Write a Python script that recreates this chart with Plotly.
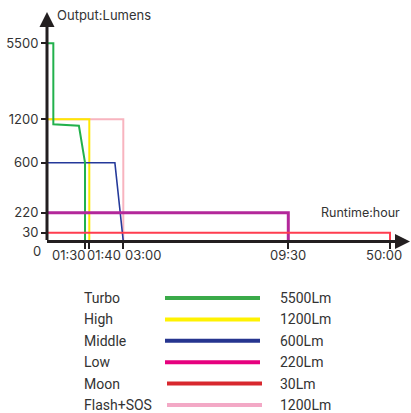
import numpy as np
import plotly.graph_objects as go

# ---- scale definitions (non-linear axes, piecewise) ----
time_tick_hours = [0, 1.5, 1.6667, 3.0, 9.5, 50.0]
time_tick_labels = ["", "01:30", "01:40", "03:00", "09:30", "50:00"]
time_scale_pos = [0, 38, 42.3, 76.3, 241.3, 343]
lumen_ticks = [0, 30, 220, 600, 1200, 5500]
lumen_tick_labels = ["0", "30", "220", "600", "1200", "5500"]
lumen_scale_pos = [0, 8.8, 28.8, 78.8, 122.2, 198.2]

# ---- series ----
modes = ["Turbo", "High", "Middle", "Low", "Moon", "Flash+SOS"]
mode_outputs = ["5500Lm", "1200Lm", "600Lm", "220Lm", "30Lm", "1200Lm"]

turbo_hours = [0, 0.25, 0.25, 1.26, 1.5, 1.5]
turbo_lumens = [5500, 5500, 1130, 1110, 600, 0]
high_hours = [0, 1.6667, 1.6667]
high_lumens = [1200, 1200, 0]
middle_hours = [0, 2.67, 3.0]
middle_lumens = [600, 600, 0]
low_hours = [0, 9.5, 9.5]
low_lumens = [220, 220, 0]
moon_hours = [0, 50.0, 50.0]
moon_lumens = [30, 30, 0]
flash_hours = [0, 3.0, 3.0]
flash_lumens = [1200, 1200, 0]

chart_colors = {"Turbo": "#22b14c", "High": "#ffe800", "Middle": "#24399a",
                "Low": "#b3279a", "Moon": "#ff3d4f", "Flash+SOS": "#f8b4bf"}
chart_widths = {"Turbo": 2, "High": 2, "Middle": 1.6, "Low": 3, "Moon": 2, "Flash+SOS": 2}
legend_colors = ["#3aaa49", "#fff200", "#26358f", "#e6007e", "#d8282e", "#f3a9c6"]

series = {
    "Turbo": (turbo_hours, turbo_lumens),
    "High": (high_hours, high_lumens),
    "Middle": (middle_hours, middle_lumens),
    "Low": (low_hours, low_lumens),
    "Moon": (moon_hours, moon_lumens),
    "Flash+SOS": (flash_hours, flash_lumens),
}


def tx(h):
    return np.interp(h, time_tick_hours, time_scale_pos)


def ty(l):
    return np.interp(l, lumen_ticks, lumen_scale_pos)


W, H = 411, 413
axis_x_px = 47
axis_y_px = 241.5
INK = "#231f20"
TXT = "#333333"
FONT = "Inter"

fig = go.Figure()

draw_order = ["Flash+SOS", "High", "Middle", "Turbo", "Low", "Moon"]
for name in draw_order:
    h, l = series[name]
    fig.add_trace(go.Scatter(
        x=tx(h), y=ty(l), mode="lines",
        line=dict(color=chart_colors[name], width=chart_widths[name]),
        xaxis="x", yaxis="y", showlegend=False, hoverinfo="skip"))

# legend block (own axes)
row0, row_step = 298, 21.4
for i, name in enumerate(modes):
    ry = row0 + i * row_step
    x0, x1 = (165, 260) if i < 4 else (167, 262)
    fig.add_trace(go.Scatter(
        x=[x0, x1], y=[ry, ry], mode="lines",
        line=dict(color=legend_colors[i], width=4),
        xaxis="x2", yaxis="y2", showlegend=False, hoverinfo="skip"))

annotations = []
for i, name in enumerate(modes):
    ry = row0 + i * row_step
    annotations.append(dict(x=82, y=ry, xref="x2", yref="y2", text=name,
                            showarrow=False, xanchor="left", yanchor="middle",
                            font=dict(family="Roboto", size=14, color=TXT)))
    annotations.append(dict(x=278, y=ry, xref="x2", yref="y2", text=mode_outputs[i],
                            showarrow=False, xanchor="left", yanchor="middle",
                            font=dict(family="Roboto", size=14, color=TXT)))

# axis lines with arrowheads
y_end = axis_y_px - 12
annotations.append(dict(x=0, y=y_end, ax=0, ay=0, xref="x", yref="y", axref="x", ayref="y",
                        showarrow=True, arrowhead=2, arrowsize=1, arrowwidth=3,
                        arrowcolor=INK, standoff=0, text=""))
x_tip_px = 418
annotations.append(dict(x=x_tip_px / W, y=0, xref="paper", yref="y",
                        ax=-(x_tip_px - axis_x_px + 1.5), ay=0,
                        showarrow=True, arrowhead=2, arrowsize=1, arrowwidth=3,
                        arrowcolor=INK, standoff=0, text=""))

# x tick labels
tick_pos = tx(time_tick_hours)
label_anchor = ["center", "right", "left", "left", "center", "center"]
label_shift = [0, 2, -4, 0, 0, -6]
for i in range(1, len(time_tick_hours)):
    annotations.append(dict(x=tick_pos[i], y=0, xref="x", yref="y", text=time_tick_labels[i],
                            showarrow=False, xanchor=label_anchor[i], yanchor="middle",
                            xshift=label_shift[i], yshift=-13,
                            font=dict(family=FONT, size=13, color=TXT)))
# zero label
annotations.append(dict(x=0, y=0, xref="x", yref="y", text=lumen_tick_labels[0],
                        showarrow=False, xanchor="right", yanchor="middle",
                        xshift=-4, yshift=-9, font=dict(family=FONT, size=13, color=TXT)))
# axis titles
annotations.append(dict(x=55 / W, y=1 - 15 / H, xref="paper", yref="paper", text="Output:Lumens",
                        showarrow=False, xanchor="left", yanchor="middle",
                        font=dict(family=FONT, size=13, color=TXT)))
annotations.append(dict(x=402 / W, y=1 - 212 / H, xref="paper", yref="paper", text="Runtime:hour",
                        showarrow=False, xanchor="right", yanchor="middle",
                        font=dict(family=FONT, size=12.5, color=TXT)))

fig.update_layout(
    width=W, height=H,
    margin=dict(l=0, r=0, t=0, b=0),
    paper_bgcolor="white", plot_bgcolor="rgba(0,0,0,0)",
    showlegend=False,
    xaxis=dict(domain=[axis_x_px / W, 1], range=[0, W - axis_x_px],
               tickvals=list(tick_pos[1:]), ticktext=time_tick_labels[1:],
               showticklabels=False, ticks="outside", ticklen=6, tickwidth=1.5,
               tickcolor=INK, showgrid=False, zeroline=False, showline=False,
               fixedrange=True),
    yaxis=dict(domain=[1 - axis_y_px / H, 1], range=[0, axis_y_px],
               tickvals=list(ty(lumen_ticks[1:])), ticktext=lumen_tick_labels[1:],
               ticks="outside", ticklen=5, tickwidth=1.5, tickcolor=INK,
               tickfont=dict(family=FONT, size=13, color=TXT),
               showgrid=False, zeroline=False, showline=False, fixedrange=True),
    xaxis2=dict(domain=[0, 1], range=[0, W], visible=False, anchor="y2", fixedrange=True),
    yaxis2=dict(domain=[0, 1 - axis_y_px / H], range=[H, axis_y_px], visible=False,
                anchor="x2", fixedrange=True),
    annotations=annotations,
)

fig.write_html("out.html", config={"displayModeBar": False},
               post_script="document.body.style.margin='0';document.body.style.overflow='hidden';")
